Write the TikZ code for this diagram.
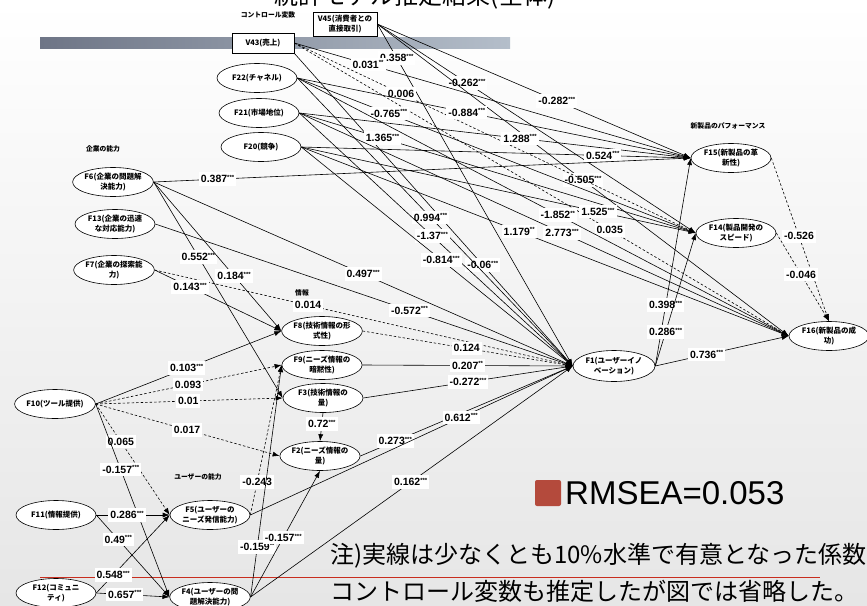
\documentclass[tikz,border=0pt]{standalone}
\usepackage{fontspec}
\setmainfont{Liberation Sans}
\newfontfamily\jpfont{Noto Sans CJK JP}
\usetikzlibrary{shapes.geometric, arrows.meta}

\definecolor{barleft}{RGB}{110,117,134}
\definecolor{barright}{RGB}{180,190,202}
\definecolor{bgbottom}{RGB}{230,230,230}
\definecolor{notered}{RGB}{200,45,30}
\definecolor{fitred}{RGB}{180,74,60}

\newcommand{\sig}[1]{\raisebox{0.6ex}{\fontsize{6}{6}\selectfont #1}}

\tikzset{
  factor/.style={ellipse, draw, fill=white, line width=0.6pt, minimum width=80pt, minimum height=29pt,
    inner sep=0pt, align=center, font=\jpfont\bfseries\fontsize{7.5}{10}\selectfont},
  ctrl/.style={rectangle, draw, fill=white, line width=0.6pt, minimum width=62pt, minimum height=20pt,
    inner sep=1pt, align=center, font=\jpfont\bfseries\fontsize{7.5}{10}\selectfont},
  group/.style={font=\jpfont\bfseries\fontsize{6.8}{8}\selectfont},
  arr/.style={line width=0.6pt, -{Latex[length=7pt, width=5pt]}},
  darr/.style={arr, dash pattern=on 2.5pt off 2pt},
  coef/.style={fill=white, inner xsep=2pt, inner ysep=3pt, font=\bfseries\fontsize{10.5}{11}\selectfont},
}

\begin{document}
\begin{tikzpicture}[x=1pt, y=-1pt]
  \useasboundingbox (0,0) rectangle (867,605);
  \shade[top color=white, bottom color=bgbottom] (0,0) rectangle (867,605);
  \shade[left color=barleft, right color=barright] (40,37) rectangle (510,48);
  \draw[notered, line width=0.8pt] (40,577) -- (820,577);

  \node[font=\jpfont\fontsize{24}{24}\selectfont, anchor=base] (title) at (415,5) {統計モデル推定結果(全体)};

  % group headings
  \node[group] (ctrllab) at (268,15) {コントロール変数};
  \node[group] (firmlab) at (103,149) {企業の能力};
  \node[group] (perflab) at (728,126) {新製品のパフォーマンス};
  \node[group] (infolab) at (302,293) {情報};
  \node[group] (userlab) at (198,477) {ユーザーの能力};

  % control variables
  \node[ctrl, minimum width=64pt, minimum height=24pt] (V45) at (345,24) {V45(消費者との\\直接取引)};
  \node[ctrl] (V43) at (263,43) {V43(売上)};
  \node[factor] (F22) at (257,78) {F22(チャネル)};
  \node[factor] (F21) at (259,113) {F21(市場地位)};
  \node[factor] (F20) at (261,147) {F20(競争)};

  % firm capabilities
  \node[factor] (F6) at (113,182) {F6(企業の問題解\\決能力)};
  \node[factor] (F13) at (115,224) {F13(企業の迅速\\な対応能力)};
  \node[factor] (F7) at (114,270) {F7(企業の探索能\\力)};

  % information
  \node[factor] (F8) at (322,331) {F8(技術情報の形\\式性)};
  \node[factor] (F9) at (322,365) {F9(ニーズ情報の\\暗黙性)};
  \node[factor] (F3) at (323,398) {F3(技術情報の\\量)};
  \node[factor] (F2) at (320,456) {F2(ニーズ情報の\\量)};

  % user capabilities
  \node[factor] (F10) at (55,404) {F10(ツール提供)};
  \node[factor] (F11) at (56,515) {F11(情報提供)};
  \node[factor] (F12) at (56,593) {F12(コミュニ\\ティ)};
  \node[factor] (F5) at (210,515) {F5(ユーザーの\\ニーズ発信能力)};
  \node[factor] (F4) at (210,597) {F4(ユーザーの問\\題解決能力)};

  % outcomes
  \node[factor, minimum width=82pt, minimum height=31pt] (F1) at (614,366) {F1(ユーザーイノ\\ベーション)};
  \node[factor] (F15) at (731,158) {F15(新製品の革\\新性)};
  \node[factor] (F14) at (736,233) {F14(製品開発の\\スピード)};
  \node[factor] (F16) at (829,336) {F16(新製品の成\\功)};

  % paths from control variables
  \draw[arr] (V45.east) -- (F1.west) node[coef, pos=0.1] {0.358\sig{***}};
  \draw[arr] (V45.east) -- (F15.west) node[coef, pos=0.573] {-0.282\sig{***}};
  \draw[arr] (V45.east) -- (F14.west) node[coef, pos=0.282] {-0.262\sig{***}};
  \draw[arr] (V45.east) -- (F16.west) node[coef, pos=0.5] {-0.505\sig{***}};
  \draw[arr] (V43.south east) -- (F1.west) node[coef, pos=0.677] {-0.06\sig{***}};
  \draw[arr] (V43.east) -- (F15.west) node[coef, pos=0.186] {0.031\sig{**}};
  \draw[darr] (V43.east) -- (F14.west) node[coef, pos=0.266] {0.006};
  \draw[darr] (V43.east) -- (F16.west) node[coef, pos=0.638] {0.035};
  \draw[arr] (F22.east) -- (F1.west) node[coef, pos=0.484] {0.994\sig{***}};
  \draw[arr] (F22.east) -- (F15.west) node[coef, pos=0.431] {-0.884\sig{***}};
  \draw[arr] (F22.east) -- (F14.west) node[coef, pos=0.23] {-0.765\sig{***}};
  \draw[arr] (F21.east) -- (F1.west) node[coef, pos=0.487] {-1.37\sig{***}};
  \draw[arr] (F21.east) -- (F15.west) node[coef, pos=0.564] {1.288\sig{***}};
  \draw[arr] (F21.east) -- (F14.west) node[coef, pos=0.21] {1.365\sig{***}};
  \draw[arr] (F21.east) -- (F16.west) node[coef, pos=0.537] {2.773\sig{***}};
  \draw[arr] (F20.east) -- (F1.west) node[coef, pos=0.516] {-0.814\sig{***}};
  \draw[arr] (F20.east) -- (F15.west) node[coef, pos=0.774] {0.524\sig{***}};
  \draw[arr] (F20.east) -- (F14.west) node[coef, pos=0.752] {1.525\sig{***}};
  \draw[arr] (F20.east) -- (F16.west) node[coef, pos=0.447] {1.179\sig{**}};
  \draw[arr] (F22.east) -- (F16.west) node[coef, pos=0.53] {-1.852\sig{**}};

  % firm capabilities
  \draw[arr] (F6.east) -- (F15.west) node[coef, pos=0.119] {0.387\sig{***}};
  \draw[arr] (F6.east) -- (F1.west) node[coef, pos=0.5] {0.497\sig{***}};
  \draw[arr] (F6.east) -- (F3.west) node[coef, pos=0.346] {0.552\sig{***}};
  \draw[arr] (F6.east) -- (F8.west) node[coef, pos=0.63] {0.184\sig{***}};
  \draw[arr] (F13.east) -- (F1.west) node[coef, pos=0.609] {-0.572\sig{***}};
  \draw[darr] (F7.east) -- (F1.west) node[coef, pos=0.367] {0.014};
  \draw[arr] (F7.east) -- (F8.west) node[coef, pos=0.28] {0.143\sig{***}};

  % information to F1
  \draw[darr] (F8.east) -- (F1.west) node[coef, pos=0.495] {0.124};
  \draw[arr] (F9.east) -- (F1.west) node[coef, pos=0.5] {0.207\sig{**}};
  \draw[arr] (F3.east) -- (F1.west) node[coef, pos=0.5] {-0.272\sig{***}};
  \draw[arr] (F2.east) -- (F1.west) node[coef, pos=0.164] {0.273\sig{***}};
  \draw[arr] (F3.south) -- (F2.north) node[coef, pos=0.4] {0.72\sig{***}};

  % user capabilities
  \draw[arr] (F10.east) -- (F8.west) node[coef, pos=0.49] {0.103\sig{***}};
  \draw[darr] (F10.east) -- (F9.west) node[coef, pos=0.497] {0.093};
  \draw[darr] (F10.east) -- (F3.west) node[coef, pos=0.495] {0.01};
  \draw[darr] (F10.east) -- (F2.west) node[coef, pos=0.497] {0.017};
  \draw[darr] (F10.east) -- (F5.west) node[coef, pos=0.34] {0.065};
  \draw[arr] (F10.east) -- (F4.west) node[coef, pos=0.34] {-0.157\sig{***}};
  \draw[arr] (F11.east) -- (F5.west) node[coef, pos=0.42] {0.286\sig{***}};
  \draw[arr] (F11.east) -- (F4.west) node[coef, pos=0.3] {0.49\sig{***}};
  \draw[arr] (F12.east) -- (F5.west) node[coef, pos=0.23] {0.548\sig{***}};
  \draw[arr] (F12.east) -- (F4.west) node[coef, pos=0.39] {0.657\sig{***}};
  \draw[darr] (F5.east) -- (F9.west) node[coef, pos=0.22] {-0.243};
  \draw[arr] (F4.east) -- (F9.west) node[coef, pos=0.216] {-0.159\sig{**}};
  \draw[arr] (F4.east) -- (F2.south) node[coef, pos=0.47] {-0.157\sig{***}};
  \draw[arr] (F5.east) -- (F1.west) node[coef, pos=0.654] {0.612\sig{***}};
  \draw[arr] (F4.east) -- (F1.west) node[coef, pos=0.497] {0.162\sig{***}};

  % innovation to performance
  \draw[arr] (F1.east) -- (F15.west) node[coef, pos=0.293] {0.398\sig{***}};
  \draw[arr] (F1.east) -- (F14.west) node[coef, pos=0.256] {0.286\sig{***}};
  \draw[arr] (F1.east) -- (F16.west) node[coef, pos=0.385] {0.736\sig{***}};
  \draw[darr] (F15.east) -- (F16.north) node[coef, pos=0.48] {-0.526};
  \draw[darr] (F14.east) -- (F16.north) node[coef, pos=0.47] {-0.046};

  % fit and note
  \fill[fitred, rounded corners=2pt] (535,480) rectangle (561,506);
  \node[anchor=west, inner sep=0pt, font=\fontsize{33}{33}\selectfont] (rmsea) at (565,493) {RMSEA=0.053};
  \node[anchor=west, inner sep=0pt, font=\jpfont\fontsize{24}{24}\selectfont] (note1) at (330,556) {注)実線は少なくとも10\%水準で有意となった係数};
  \node[anchor=west, inner sep=0pt, font=\jpfont\fontsize{24}{24}\selectfont] (note2) at (330,591) {コントロール変数も推定したが図では省略した。};
\end{tikzpicture}
\end{document}
